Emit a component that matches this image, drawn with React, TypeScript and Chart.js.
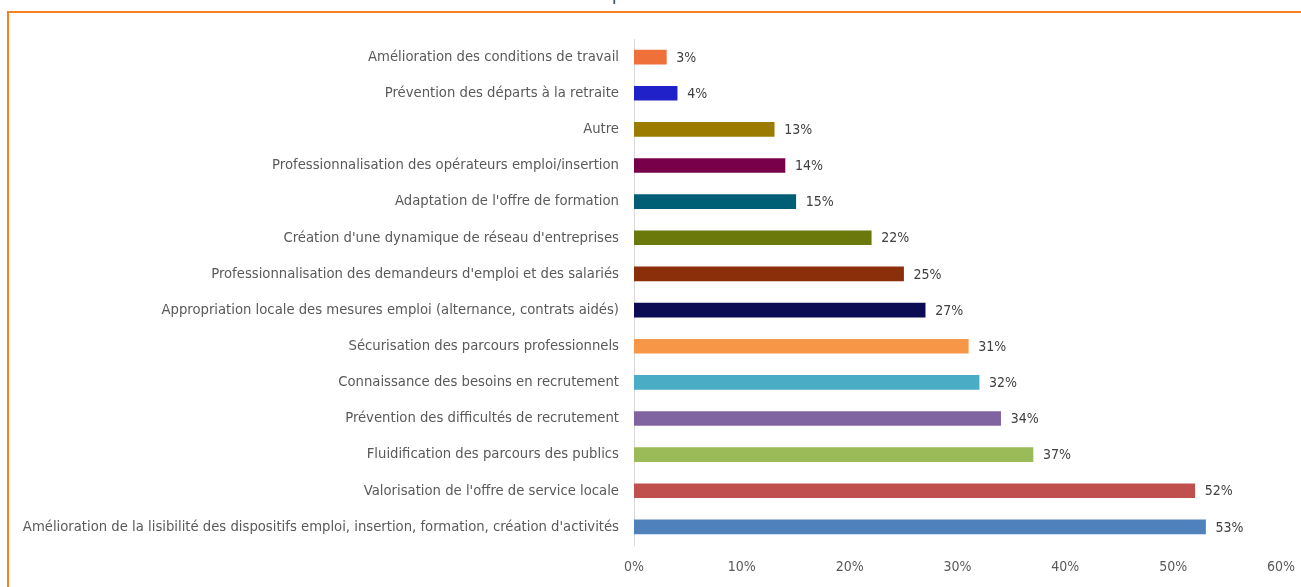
import React, { useEffect, useRef } from "react";
import { Chart, registerables } from "chart.js";

Chart.register(...registerables);

const categories: string[] = [
  "Amélioration des conditions de travail",
  "Prévention des départs à la retraite",
  "Autre",
  "Professionnalisation des opérateurs emploi/insertion",
  "Adaptation de l'offre de formation",
  "Création d'une dynamique de réseau d'entreprises",
  "Professionnalisation des demandeurs d'emploi et des salariés",
  "Appropriation locale des mesures emploi (alternance, contrats aidés)",
  "Sécurisation des parcours professionnels",
  "Connaissance des besoins en recrutement",
  "Prévention des difficultés de recrutement",
  "Fluidification des parcours des publics",
  "Valorisation de l'offre de service locale",
  "Amélioration de la lisibilité des dispositifs emploi, insertion, formation, création d'activités",
];

const values: number[] = [3, 4, 13, 14, 15, 22, 25, 27, 31, 32, 34, 37, 52, 53];

const barColors: string[] = [
  "#F0703A",
  "#2121C9",
  "#9C7C00",
  "#78004A",
  "#005F74",
  "#6B780A",
  "#8B2E0A",
  "#0C0C55",
  "#F79646",
  "#4BACC6",
  "#8064A2",
  "#9BBB59",
  "#C0504D",
  "#4F81BD",
];

const xTicks: number[] = [0, 10, 20, 30, 40, 50, 60];

const FONT = "'Liberation Sans Narrow', 'DejaVu Sans Condensed', 'Liberation Sans', sans-serif";

const valueLabelPlugin = {
  id: "valueLabels",
  afterDatasetsDraw(chart: any) {
    const ctx = chart.ctx;
    const meta = chart.getDatasetMeta(0);
    ctx.save();
    ctx.font = `14px ${FONT}`;
    ctx.fillStyle = "#404040";
    ctx.textAlign = "left";
    ctx.textBaseline = "middle";
    meta.data.forEach((bar: any, i: number) => {
      ctx.fillText(`${values[i]}%`, bar.x + 10, bar.y + 1);
    });
    ctx.restore();
  },
};

export default function App() {
  const canvasRef = useRef<HTMLCanvasElement | null>(null);

  useEffect(() => {
    if (!canvasRef.current) return;
    const chart = new Chart(canvasRef.current, {
      type: "bar",
      data: {
        labels: categories,
        datasets: [
          {
            data: values,
            backgroundColor: barColors,
            borderWidth: 0,
            barThickness: 14,
          },
        ],
      },
      options: {
        indexAxis: "y",
        responsive: false,
        animation: false,
        maintainAspectRatio: false,
        layout: { padding: { top: 39, right: 17, bottom: 0, left: 0 } },
        plugins: {
          legend: { display: false },
          tooltip: { enabled: false },
          title: { display: false },
        },
        scales: {
          x: {
            min: 0,
            max: 60,
            afterBuildTicks: (scale: any) => {
              scale.ticks = xTicks.map((v) => ({ value: v }));
            },
            afterFit: (scale: any) => {
              scale.height = 42;
            },
            grid: { display: false },
            border: { display: false },
            ticks: {
              padding: 6,
              color: "#595959",
              font: { family: FONT, size: 14 },
              callback: (v: any) => `${v}%`,
            },
          },
          y: {
            afterFit: (scale: any) => {
              scale.width = 634;
            },
            grid: { display: false },
            border: { display: true, color: "#D9D9D9", width: 1 },
            ticks: {
              padding: 7,
              color: "#595959",
              font: { family: FONT, size: 14.7 },
              autoSkip: false,
            },
          },
        },
      },
      plugins: [valueLabelPlugin],
    });
    return () => chart.destroy();
  }, []);

  return (
    <div
      style={{
        position: "fixed",
        left: 0,
        top: 0,
        width: 1301,
        height: 587,
        overflow: "hidden",
        background: "#ffffff",
      }}
    >
      <div
        style={{
          position: "absolute",
          left: 612,
          top: -16,
          fontFamily: FONT,
          fontSize: 18,
          color: "#404040",
          lineHeight: "20px",
        }}
      >
        p
      </div>
      <div
        style={{
          position: "absolute",
          left: 7,
          top: 11,
          width: 1400,
          height: 700,
          borderLeft: "2px solid #F58220",
          borderTop: "2px solid #F58220",
        }}
      />
      <canvas
        ref={canvasRef}
        width={1301}
        height={587}
        style={{ position: "absolute", left: 0, top: 0, width: 1301, height: 587 }}
      />
    </div>
  );
}
